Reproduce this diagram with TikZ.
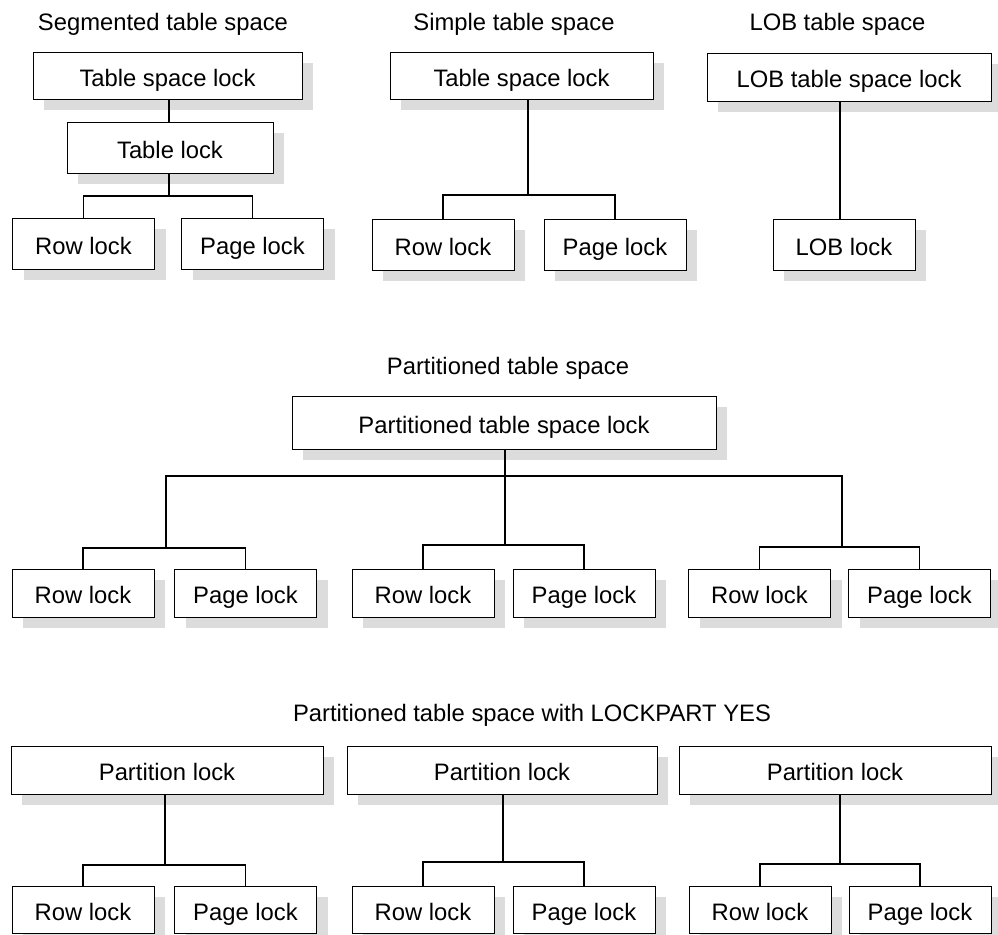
\documentclass[tikz,border=0pt]{standalone}
\usepackage{fontspec}
\setmainfont{Liberation Sans}
\usetikzlibrary{shadows}
\definecolor{shadowgray}{HTML}{DCDCDC}
\tikzset{
  lock/.style={draw, line width=0.5pt, fill=white, inner sep=0pt, text height=12pt, text depth=1.5pt,
    drop shadow={shadow xshift=5.5pt, shadow yshift=-5.5pt, fill=shadowgray, opacity=1}},
  leaf/.style={lock, minimum width=71pt, minimum height=24pt},
  heading/.style={inner sep=0pt},
  link/.style={line width=0.6pt}
}
\begin{document}
\begin{tikzpicture}[x=0.5pt, y=-0.5pt, font=\fontsize{11.9}{14}\selectfont]
\useasboundingbox (0,0) rectangle (998,934);

\node[heading] (segtitle) at (163,24) {Segmented table space};
\node[lock, minimum width=134.5pt, minimum height=23.5pt] (segtsl) at (167.5,75.5) {Table space lock};
\node[lock, minimum width=103pt, minimum height=25.5pt] (segtl) at (170,147.5) {Table lock};
\node[leaf, minimum height=25.5pt] (segrow) at (83.5,243.5) {Row lock};
\node[leaf, minimum height=25.5pt] (segpage) at (252.5,243.5) {Page lock};
\coordinate (segbus) at (169,196);
\draw[link] (segbus |- segtsl.south) -- (segbus |- segtl.north);
\draw[link] (segbus |- segtl.south) -- (segbus);
\draw[link] (segrow.north) |- (segbus) -| (segpage.north);

\node[heading] (simtitle) at (514,24) {Simple table space};
\node[lock, minimum width=131.5pt, minimum height=23.5pt] (simtsl) at (521.5,75.5) {Table space lock};
\node[leaf, minimum height=25.5pt] (simrow) at (443,244.5) {Row lock};
\node[leaf, minimum height=25.5pt] (simpage) at (615,244.5) {Page lock};
\coordinate (simbus) at (528,195);
\draw[link] (simbus |- simtsl.south) -- (simbus);
\draw[link] (simrow.north) |- (simbus) -| (simpage.north);

\node[heading] (lobtitle) at (837.5,24) {LOB table space};
\node[lock, minimum width=142pt, minimum height=24pt] (lobtsl) at (849,77) {LOB table space lock};
\node[leaf, minimum height=25.5pt] (loblock) at (844,244.5) {LOB lock};
\coordinate (lobtop) at (840,101);
\draw[link] (lobtop |- lobtsl.south) -- (lobtop |- loblock.north);

\node[heading] (ptitle) at (508,368) {Partitioned table space};
\node[lock, minimum width=212pt, minimum height=26.5pt] (pts) at (504,422.5) {Partitioned table space lock};
\coordinate (pjoin) at (505,476);
\coordinate (pbusa) at (166,548);
\coordinate (pbusb) at (505,545);
\coordinate (pbusc) at (842,547);
\draw[link] (pjoin |- pts.south) -- (pbusb);
\draw[link] (pbusa) |- (pjoin) -| (pbusc);
\node[leaf] (prowa) at (83,593) {Row lock};
\node[leaf] (ppagea) at (245.5,593) {Page lock};
\node[leaf] (prowb) at (423,593) {Row lock};
\node[leaf] (ppageb) at (584,593) {Page lock};
\node[leaf] (prowc) at (759.5,593) {Row lock};
\node[leaf] (ppagec) at (919.5,593) {Page lock};
\draw[link] (prowa.north) |- (pbusa) -| (ppagea.north);
\draw[link] (prowb.north) |- (pbusb) -| (ppageb.north);
\draw[link] (prowc.north) |- (pbusc) -| (ppagec.north);

\node[heading] (btitle) at (532,715) {Partitioned table space with LOCKPART YES};
\node[lock, minimum width=156pt, minimum height=24pt] (parta) at (167,770) {Partition lock};
\node[lock, minimum width=155pt, minimum height=24pt] (partb) at (502,770) {Partition lock};
\node[lock, minimum width=156pt, minimum height=24pt] (partc) at (835,770) {Partition lock};
\coordinate (bbusa) at (165,865);
\coordinate (bbusb) at (503,862);
\coordinate (bbusc) at (840,864);
\draw[link] (bbusa |- parta.south) -- (bbusa);
\draw[link] (bbusb |- partb.south) -- (bbusb);
\draw[link] (bbusc |- partc.south) -- (bbusc);
\node[leaf, minimum height=23.5pt] (browa) at (83,909.5) {Row lock};
\node[leaf, minimum height=23.5pt] (bpagea) at (245.5,909.5) {Page lock};
\node[leaf, minimum height=23.5pt] (browb) at (423,909.5) {Row lock};
\node[leaf, minimum height=23.5pt] (bpageb) at (584,909.5) {Page lock};
\node[leaf, minimum height=23.5pt] (browc) at (760,909.5) {Row lock};
\node[leaf, minimum height=23.5pt] (bpagec) at (920,909.5) {Page lock};
\draw[link] (browa.north) |- (bbusa) -| (bpagea.north);
\draw[link] (browb.north) |- (bbusb) -| (bpageb.north);
\draw[link] (browc.north) |- (bbusc) -| (bpagec.north);
\end{tikzpicture}
\end{document}
